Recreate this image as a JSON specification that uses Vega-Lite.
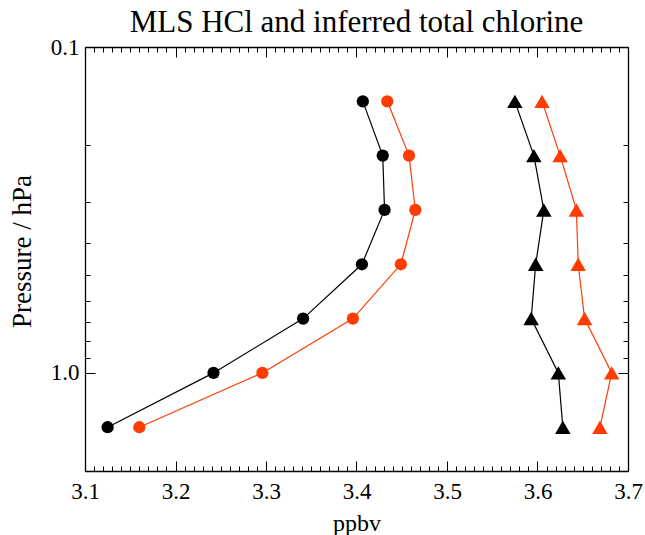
{
  "$schema": "https://vega.github.io/schema/vega-lite/v6.json",
  "autosize": "none",
  "width": 543,
  "height": 424,
  "padding": {"left": 85, "top": 47, "right": 17, "bottom": 64},
  "background": "white",
  "config": {
    "font": "Liberation Serif",
    "view": {"stroke": null},
    "axis": {"domainColor": "black", "tickColor": "black", "labelColor": "black", "titleColor": "black", "grid": false, "labelFont": "Liberation Serif", "titleFont": "Liberation Serif", "titleFontWeight": "normal"}
  },
  "title": {"text": "MLS HCl and inferred total chlorine", "fontSize": 31, "font": "Liberation Serif", "fontWeight": "normal", "color": "black", "offset": -3, "anchor": "middle"},
  "data": {
    "values": [
      {"p": 0.1468, "v": 3.407, "g": "hcl_b", "c": "black", "m": "circle"},
      {"p": 0.2154, "v": 3.429, "g": "hcl_b", "c": "black", "m": "circle"},
      {"p": 0.3162, "v": 3.431, "g": "hcl_b", "c": "black", "m": "circle"},
      {"p": 0.4642, "v": 3.406, "g": "hcl_b", "c": "black", "m": "circle"},
      {"p": 0.6813, "v": 3.341, "g": "hcl_b", "c": "black", "m": "circle"},
      {"p": 1.0, "v": 3.242, "g": "hcl_b", "c": "black", "m": "circle"},
      {"p": 1.468, "v": 3.125, "g": "hcl_b", "c": "black", "m": "circle"},
      {"p": 0.1468, "v": 3.434, "g": "hcl_r", "c": "red", "m": "circle"},
      {"p": 0.2154, "v": 3.458, "g": "hcl_r", "c": "red", "m": "circle"},
      {"p": 0.3162, "v": 3.465, "g": "hcl_r", "c": "red", "m": "circle"},
      {"p": 0.4642, "v": 3.449, "g": "hcl_r", "c": "red", "m": "circle"},
      {"p": 0.6813, "v": 3.396, "g": "hcl_r", "c": "red", "m": "circle"},
      {"p": 1.0, "v": 3.296, "g": "hcl_r", "c": "red", "m": "circle"},
      {"p": 1.468, "v": 3.160, "g": "hcl_r", "c": "red", "m": "circle"},
      {"p": 0.1468, "v": 3.575, "g": "cly_b", "c": "black", "m": "triangle-up"},
      {"p": 0.2154, "v": 3.596, "g": "cly_b", "c": "black", "m": "triangle-up"},
      {"p": 0.3162, "v": 3.607, "g": "cly_b", "c": "black", "m": "triangle-up"},
      {"p": 0.4642, "v": 3.598, "g": "cly_b", "c": "black", "m": "triangle-up"},
      {"p": 0.6813, "v": 3.593, "g": "cly_b", "c": "black", "m": "triangle-up"},
      {"p": 1.0, "v": 3.623, "g": "cly_b", "c": "black", "m": "triangle-up"},
      {"p": 1.468, "v": 3.628, "g": "cly_b", "c": "black", "m": "triangle-up"},
      {"p": 0.1468, "v": 3.605, "g": "cly_r", "c": "red", "m": "triangle-up"},
      {"p": 0.2154, "v": 3.625, "g": "cly_r", "c": "red", "m": "triangle-up"},
      {"p": 0.3162, "v": 3.643, "g": "cly_r", "c": "red", "m": "triangle-up"},
      {"p": 0.4642, "v": 3.645, "g": "cly_r", "c": "red", "m": "triangle-up"},
      {"p": 0.6813, "v": 3.652, "g": "cly_r", "c": "red", "m": "triangle-up"},
      {"p": 1.0, "v": 3.682, "g": "cly_r", "c": "red", "m": "triangle-up"},
      {"p": 1.468, "v": 3.669, "g": "cly_r", "c": "red", "m": "triangle-up"}
    ]
  },
  "resolve": {"axis": {"x": "independent", "y": "independent"}},
  "layer": [
    {
      "mark": {"type": "line", "strokeWidth": 1.2},
      "encoding": {
        "x": {"field": "v", "type": "quantitative", "scale": {"domain": [3.1, 3.7], "nice": false, "zero": false},
          "axis": {"orient": "bottom", "title": "ppbv", "titleFontSize": 24, "titlePadding": 3, "labelFontSize": 23, "labelPadding": 19, "labelFlush": false, "labelOverlap": false,
            "values": [3.1,3.11,3.12,3.13,3.14,3.15,3.16,3.17,3.18,3.19,3.2,3.21,3.22,3.23,3.24,3.25,3.26,3.27,3.28,3.29,3.3,3.31,3.32,3.33,3.34,3.35,3.36,3.37,3.38,3.39,3.4,3.41,3.42,3.43,3.44,3.45,3.46,3.47,3.48,3.49,3.5,3.51,3.52,3.53,3.54,3.55,3.56,3.57,3.58,3.59,3.6,3.61,3.62,3.63,3.64,3.65,3.66,3.67,3.68,3.69,3.7],
            "labelExpr": "round(datum.value*100) % 10 == 0 ? format(datum.value, '.1f') : ''",
            "tickSize": {"condition": {"test": "round(datum.value*100) % 10 == 0", "value": -10}, "value": -5},
            "domainWidth": 1.3, "tickWidth": 1}},
        "y": {"field": "p", "type": "quantitative", "scale": {"type": "log", "domain": [0.1, 2], "reverse": true, "nice": false},
          "axis": {"orient": "left", "title": "Pressure / hPa", "titleFontSize": 27, "titlePadding": 14, "titleY": 204, "labelFontSize": 23, "labelPadding": 16, "labelOverlap": false,
            "values": [0.1,0.2,0.3,0.4,0.5,0.6,0.7,0.8,0.9,1,2],
            "labelExpr": "datum.value == 0.1 ? '0.1' : datum.value == 1 ? '1.0' : ''",
            "tickSize": {"condition": {"test": "datum.value == 0.1 || datum.value == 1", "value": -10}, "value": -5},
            "domainWidth": 1.3, "tickWidth": 1}},
        "color": {"field": "c", "type": "nominal", "scale": {"domain": ["black", "red"], "range": ["black", "#ff3c00"]}, "legend": null},
        "detail": {"field": "g"},
        "order": {"field": "p", "type": "quantitative"}
      }
    },
    {
      "transform": [{"filter": "datum.m == 'circle'"}],
      "mark": {"type": "point", "filled": true, "opacity": 1, "shape": "circle", "size": 150},
      "encoding": {
        "x": {"field": "v", "type": "quantitative",
          "axis": {"orient": "top", "title": null, "labels": false, "domainWidth": 1.3, "tickWidth": 1,
            "values": [3.1,3.11,3.12,3.13,3.14,3.15,3.16,3.17,3.18,3.19,3.2,3.21,3.22,3.23,3.24,3.25,3.26,3.27,3.28,3.29,3.3,3.31,3.32,3.33,3.34,3.35,3.36,3.37,3.38,3.39,3.4,3.41,3.42,3.43,3.44,3.45,3.46,3.47,3.48,3.49,3.5,3.51,3.52,3.53,3.54,3.55,3.56,3.57,3.58,3.59,3.6,3.61,3.62,3.63,3.64,3.65,3.66,3.67,3.68,3.69,3.7],
            "tickSize": {"condition": {"test": "round(datum.value*100) % 10 == 0", "value": -10}, "value": -5}}},
        "y": {"field": "p", "type": "quantitative",
          "axis": {"orient": "right", "title": null, "labels": false, "domainWidth": 1.3, "tickWidth": 1,
            "values": [0.1,0.2,0.3,0.4,0.5,0.6,0.7,0.8,0.9,1,2],
            "tickSize": {"condition": {"test": "datum.value == 0.1 || datum.value == 1", "value": -10}, "value": -5}}},
        "color": {"field": "c", "type": "nominal", "legend": null}
      }
    },
    {
      "transform": [{"filter": "datum.m == 'triangle-up'"}],
      "mark": {"type": "point", "filled": true, "opacity": 1, "shape": "triangle-up", "size": 240},
      "encoding": {
        "x": {"field": "v", "type": "quantitative", "axis": null},
        "y": {"field": "p", "type": "quantitative", "axis": null},
        "color": {"field": "c", "type": "nominal", "legend": null}
      }
    }
  ]
}
